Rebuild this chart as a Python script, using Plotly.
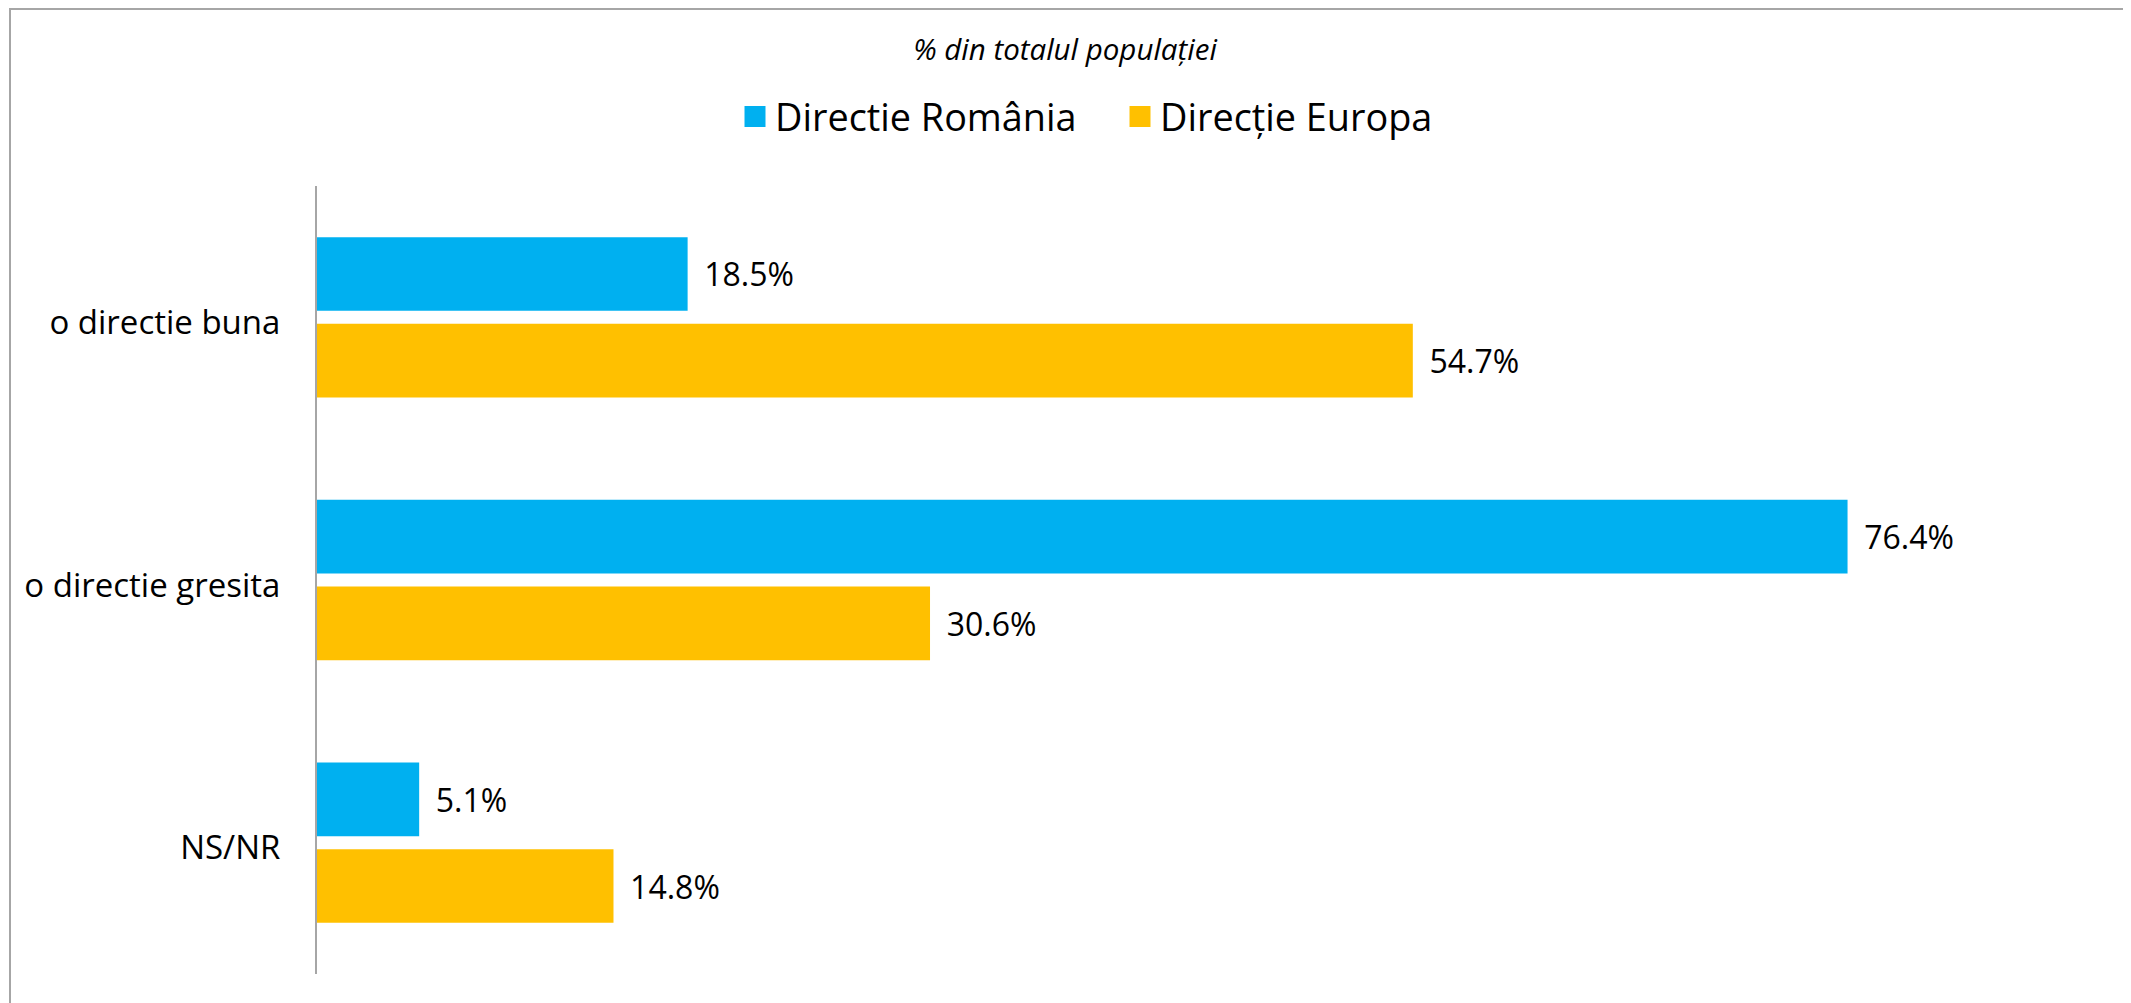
import plotly.graph_objects as go

categories = ["o directie buna", "o directie gresita", "NS/NR"]
series_names = ["Directie România", "Direcție Europa"]
romania_values = [18.5, 76.4, 5.1]
europa_values = [54.7, 30.6, 14.8]
colors = ["#00B0F0", "#FFC000"]
title_text = "% din totalul populației"

FONT = "Open Sans"
OFF = 8  # page body offset
W, H = 2131 - OFF, 1003 - OFF
L, T = 317 - OFF, 186 - OFF
PW = 1803
PH = 974 - 186
R = W - L - PW
B = H - T - PH

fig = go.Figure()
for name, vals, col in zip(series_names, [romania_values, europa_values], colors):
    fig.add_trace(go.Bar(
        y=categories, x=vals, orientation="h", name=name,
        marker=dict(color=col, line=dict(width=0)),
        texttemplate="\u00a0\u2009%{x:.1f}%", textposition="outside",
        textfont=dict(family=FONT, size=32, color="#000000"),
        cliponaxis=False, showlegend=False, hoverinfo="x+y",
    ))
# legend entries with larger square swatches
for name, col in zip(series_names, colors):
    fig.add_trace(go.Scatter(
        x=[None], y=[None], mode="markers", name=name,
        marker=dict(symbol="square", size=16, color=col, line=dict(color=col, width=5)),
        showlegend=True,
    ))

def wx(px):  # window px -> paper x
    return (px - OFF - L) / PW

def wy(py):  # window px -> paper y
    return (H - B - (py - OFF)) / PH

fig.update_layout(
    width=W, height=H,
    margin=dict(l=L, r=R, t=T, b=B, pad=0),
    paper_bgcolor="white", plot_bgcolor="white",
    barmode="group", bargap=0.34, bargroupgap=0.15,
    font=dict(family=FONT, color="#000000"),
    title=dict(text="<i>" + title_text + "</i>", x=wx(1065), xref="paper", xanchor="center",
               y=1 - (50 - OFF) / H, yref="container", yanchor="middle",
               font=dict(family=FONT, size=29.5, color="#000000")),
    legend=dict(orientation="h", x=wx(735), xanchor="left",
                y=wy(117), yanchor="middle", entrywidth=340,
                font=dict(family=FONT, size=37.8, color="#000000"),
                bgcolor="rgba(0,0,0,0)", itemclick=False, itemdoubleclick=False),
    xaxis=dict(range=[0, 90], visible=False, showgrid=False, zeroline=False, fixedrange=True),
    yaxis=dict(type="category", categoryorder="array", categoryarray=categories,
               autorange="reversed", showline=True, linecolor="#A6A6A6", linewidth=2,
               ticks="", showgrid=False, ticklabelstandoff=28, ticklabelshift=-5,
               tickfont=dict(family=FONT, size=33, color="#000000"), fixedrange=True),
    shapes=[dict(type="rect", xref="paper", yref="paper",
                 x0=wx(10), x1=wx(2131 + 50),
                 y0=wy(1003 + 50), y1=wy(9),
                 line=dict(color="#A6A6A6", width=2), fillcolor="rgba(0,0,0,0)", layer="below")],
)

fig.write_html("out.html")
